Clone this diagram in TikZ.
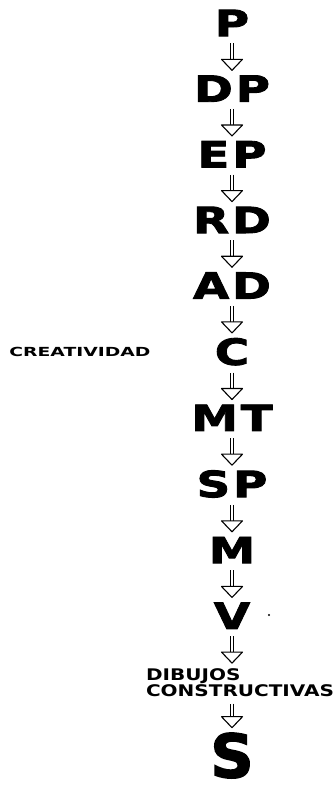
\documentclass[tikz,border=0pt]{standalone}
\usepackage{fontspec}
\usetikzlibrary{positioning, decorations.markings}
\newfontfamily\letrafont{DejaVu Sans Bold}[FakeStretch=1.3,LetterSpace=8,FakeBold=2.5]
\newfontfamily\sfinalfont{DejaVu Sans Bold}[FakeBold=2.5]
\newfontfamily\notafont{DejaVu Sans Bold}[FakeStretch=1.25]
\newfontfamily\creafont{DejaVu Sans Bold}[FakeStretch=1.5]

\begin{document}
\begin{tikzpicture}[
        x=1pt, y=1pt,
        etapa/.style={
            inner sep=0pt,
            font=\letrafont\fontsize{36}{36}\selectfont
        },
        nota/.style={
            inner sep=0pt,
            align=left,
            font=\notafont\fontsize{16}{14}\selectfont
        },
        flecha/.style={
            double, double distance=2.8pt, line width=0.9pt,
            shorten <=7pt, shorten >=16pt,
            decoration={markings, mark=at position -5pt with {
                \draw[line width=1.1pt, fill=white, line join=round]
                    (0,0) -- (-11pt,10.5pt) -- (-11pt,-10.5pt) -- cycle;
            }},
            postaction={decorate}
        },
        node distance=39pt
    ]
    \useasboundingbox (0,0) rectangle (334,-791);

    % Main column
    \node[etapa] (p) at (232,-23) {P};
    \node[etapa, below=of p] (dp) {DP};
    \node[etapa, below=of dp] (ep) {EP};
    \node[etapa, below=of ep] (rd) {RD};
    \node[etapa, below=of rd] (ad) {AD};
    \node[etapa, below=of ad] (c) {C};
    \node[etapa, below=of c] (mt) {MT};
    \node[etapa, below=of mt] (sp) {SP};
    \node[etapa, below=of sp] (m) {M};
    \node[etapa, below=of m] (v) {V};
    \node[nota, below=of v, xshift=8pt] (dibujos) {DIBUJOS\\CONSTRUCTIVAS};
    \node[etapa, below=36pt of dibujos, xshift=-8pt,
        font=\sfinalfont\fontsize{60}{60}\selectfont] (s) {S};

    % Side label
    \node[left=64pt of c, inner sep=0pt, font=\creafont\fontsize{12.5}{12.5}\selectfont]
        (creatividad) {CREATIVIDAD};

    % Arrows
    \draw[flecha] (p) -- (dp);
    \draw[flecha] (dp) -- (ep);
    \draw[flecha] (ep) -- (rd);
    \draw[flecha] (rd) -- (ad);
    \draw[flecha] (ad) -- (c);
    \draw[flecha] (c) -- (mt);
    \draw[flecha] (mt) -- (sp);
    \draw[flecha] (sp) -- (m);
    \draw[flecha] (m) -- (v);
    \draw[flecha] (v) -- (v |- dibujos.north);
    \draw[flecha] (v |- dibujos.south) -- (s);

    \fill (269,-615) circle (1.2);
\end{tikzpicture}
\end{document}
